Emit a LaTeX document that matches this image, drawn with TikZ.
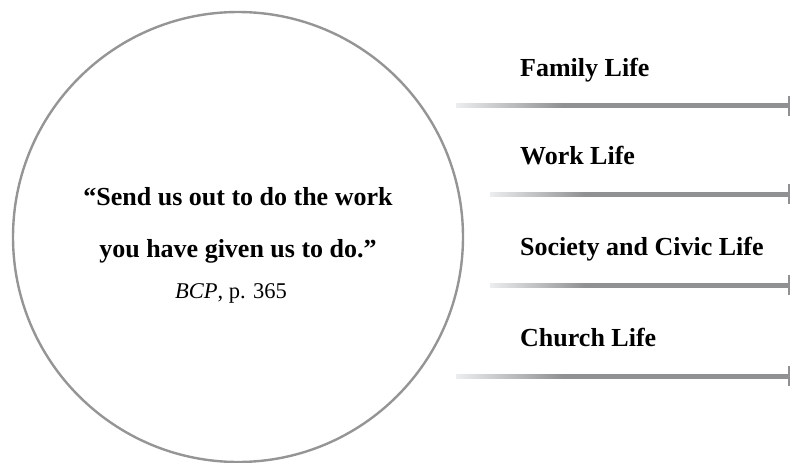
\documentclass[tikz,border=0pt]{standalone}
\usepackage{fontspec}
\setmainfont{Liberation Serif}
\usepackage{xcolor}
\usepackage{tikz}
\usetikzlibrary{positioning}

\definecolor{ringgray}{HTML}{959595}
\definecolor{bargray}{HTML}{8F9193}
\definecolor{barfade}{HTML}{EBEDEF}

% fade over the first third of a bar, then flat grey
\pgfdeclarehorizontalshading{barshade}{100bp}{color(0bp)=(barfade); color(25bp)=(barfade);
  color(41bp)=(bargray); color(100bp)=(bargray)}

\begin{document}
\begin{tikzpicture}[
    x=1pt,y=-1pt,
    ring/.style={draw=ringgray,line width=2.4pt},
    quote/.style={anchor=base,font=\bfseries\fontsize{26}{30}\selectfont,inner sep=0pt},
    source/.style={anchor=base,font=\fontsize{22.5}{26}\selectfont,inner sep=0pt},
    area/.style={anchor=base west,font=\bfseries\fontsize{26}{30}\selectfont,inner sep=0pt},
    tick/.style={draw=bargray,line width=2pt}
]
\useasboundingbox (0,0) rectangle (790,463);

% the circle with the collect
\node[circle,ring,minimum size=450pt,inner sep=0pt] (ring) at (238,237) {};
\node[quote] (q1) at (238,205) {``Send us out to do the work};
\node[quote] (q2) at (238,257) {you have given us to do.''};
\node[source] (src) at (231,298) {\textit{BCP}, p. 365};

% the four areas of life, each over a fading bar
\foreach \name/\txt/\y/\xs in {fam/Family Life/105.5/456,
                               work/Work Life/194/490,
                               soc/Society and Civic Life/285/490,
                               church/Church Life/376/456}{
  \node[area] (\name) at (520,\y-29.5) {\txt};
  \coordinate (\name-a) at (\xs,\y);
  \coordinate (\name-c) at (788.5,\y);
  \shade[shading=barshade]
    ([yshift=-2pt]\name-a) rectangle ([yshift=2pt]\name-c);
  \draw[tick] ([yshift=-10pt]\name-c) -- ([yshift=10pt]\name-c);
}
\end{tikzpicture}
\end{document}
